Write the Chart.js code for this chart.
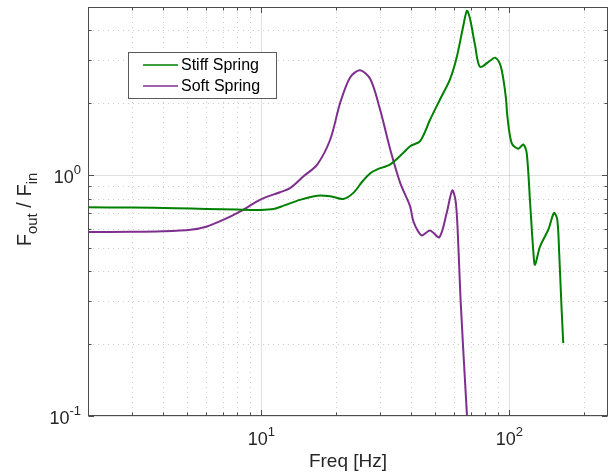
<!DOCTYPE html>
<html><head><meta charset="utf-8">
<script src="https://cdn.jsdelivr.net/npm/chart.js@4"></script>
<style>html,body{margin:0;padding:0;background:#fff;}canvas{display:block;}</style>
</head><body>
<canvas id="c" width="610" height="474"></canvas>
<script>
// ---- data ----
const seriesNames = ['Stiff Spring', 'Soft Spring'];
const seriesColors = ['#008000', '#7E2F8E'];

const stiffFreq = [2, 3, 4.5, 6, 8, 9.9, 11.2, 12.3, 14.3, 16.8, 19, 21.4, 23.5, 25.5, 27.5, 29.2, 33.1, 37.4, 39.8, 43.7, 47.9, 52.6, 57.7, 61.4, 65.3, 67.5, 69.5, 72.8, 76.2, 83.6, 87.6, 91.8, 94.6, 97, 98.2, 102.2, 108.7, 113.8, 117.5, 121.3, 125.1, 126.9, 133, 143.6, 151.4, 156.1, 158.9, 162.1, 165];
const stiffMag  = [0.736, 0.734, 0.730, 0.725, 0.720, 0.718, 0.724, 0.748, 0.79, 0.823, 0.818, 0.797, 0.845, 0.94, 1.02, 1.056, 1.11, 1.24, 1.32, 1.386, 1.70, 2.07, 2.51, 3.1, 4.2, 4.82, 4.45, 3.45, 2.82, 2.99, 3.08, 2.89, 2.51, 2.07, 1.76, 1.36, 1.288, 1.342, 1.24, 0.767, 0.475, 0.425, 0.506, 0.594, 0.697, 0.654, 0.475, 0.294, 0.201];

const softFreq = [2, 3, 4, 5.18, 6.04, 7.05, 8.23, 9.61, 10.5, 11.9, 13.1, 14.8, 16.8, 18.96, 20.8, 22.8, 25.0, 27.5, 30.1, 33.1, 36.3, 39.8, 41.1, 44.3, 47.9, 52.2, 55.9, 58.9, 60.9, 62.4, 63.6, 67.4, 68.5];
const softMag  = [0.581, 0.582, 0.585, 0.594, 0.613, 0.654, 0.708, 0.779, 0.813, 0.85, 0.886, 0.99, 1.108, 1.408, 2.0, 2.55, 2.73, 2.51, 1.88, 1.28, 0.93, 0.743, 0.64, 0.563, 0.59, 0.553, 0.697, 0.866, 0.767, 0.49, 0.303, 0.103, 0.08];

// axes
const xRange = [2, 250];
const yRange = [0.1, 5];
const xMajorTicks = [10, 100];
const xTickLabels = ['10^1', '10^2'];
const yMajorTicks = [0.1, 1];
const yTickLabels = ['10^-1', '10^0'];
const xMinorTicks = [3, 4, 5, 6, 7, 8, 9, 20, 30, 40, 50, 60, 70, 80, 90, 200];
const yMinorTicks = [0.2, 0.3, 0.4, 0.5, 0.6, 0.7, 0.8, 0.9, 2, 3, 4];
const xTitle = 'Freq [Hz]';
const yTitleParts = [['F', ''], ['out', 'sub'], [' / F', ''], ['in', 'sub']];

const FONT = '"Liberation Sans", Arial, Helvetica, sans-serif';
const TXT = '#262626';

function toPts(xs, ys) { return xs.map((v, i) => ({x: v, y: ys[i]})); }

function drawPow(ctx, label, x, y, align) {
  const [base, exp] = label.split('^');
  ctx.font = '18px ' + FONT;
  const wb = ctx.measureText(base).width;
  ctx.font = '13px ' + FONT;
  const we = ctx.measureText(exp).width;
  const total = wb + we;
  let sx = align === 'center' ? x - total / 2 : x - total;
  ctx.textAlign = 'left';
  ctx.textBaseline = 'alphabetic';
  ctx.font = '18px ' + FONT;
  ctx.fillText(base, sx, y);
  ctx.font = '13px ' + FONT;
  ctx.fillText(exp, sx + wb, y - 9);
}

const matlabAxes = {
  id: 'matlabAxes',
  beforeDatasetsDraw(chart) {
    const {ctx, chartArea: a, scales: {x, y}} = chart;
    ctx.save();
    ctx.lineWidth = 1;
    // minor dotted grid
    ctx.strokeStyle = 'rgba(0,0,0,0.2)';
    ctx.setLineDash([1, 4]);
    ctx.beginPath();
    xMinorTicks.forEach(v => { const p = Math.round(x.getPixelForValue(v)) + 0.5; ctx.moveTo(p, a.top); ctx.lineTo(p, a.bottom); });
    yMinorTicks.forEach(v => { const p = Math.round(y.getPixelForValue(v)) + 0.5; ctx.moveTo(a.left, p); ctx.lineTo(a.right, p); });
    ctx.stroke();
    // major solid grid
    ctx.setLineDash([]);
    ctx.strokeStyle = 'rgba(0,0,0,0.12)';
    ctx.beginPath();
    xMajorTicks.forEach(v => { const p = Math.round(x.getPixelForValue(v)) + 0.5; ctx.moveTo(p, a.top); ctx.lineTo(p, a.bottom); });
    yMajorTicks.forEach(v => { const p = Math.round(y.getPixelForValue(v)) + 0.5; ctx.moveTo(a.left, p); ctx.lineTo(a.right, p); });
    ctx.stroke();
    ctx.restore();
  },
  afterDatasetsDraw(chart) {
    const {ctx, chartArea: a, scales: {x, y}} = chart;
    ctx.save();
    const L = Math.round(a.left) + 0.5, R = Math.round(a.right) - 0.5;
    const T = Math.round(a.top) + 0.5, B = Math.round(a.bottom) - 0.5;
    // box
    ctx.strokeStyle = '#4d4d4d';
    ctx.lineWidth = 1;
    ctx.strokeRect(L, T, R - L, B - T);
    // tick marks
    ctx.beginPath();
    const tickX = (v, len) => { const p = Math.round(x.getPixelForValue(v)) + 0.5; ctx.moveTo(p, B); ctx.lineTo(p, B - len); ctx.moveTo(p, T); ctx.lineTo(p, T + len); };
    const tickY = (v, len) => { const p = Math.round(y.getPixelForValue(v)) + 0.5; ctx.moveTo(L, p); ctx.lineTo(L + len, p); ctx.moveTo(R, p); ctx.lineTo(R - len, p); };
    xMinorTicks.forEach(v => tickX(v, 3));
    xMajorTicks.forEach(v => tickX(v, 5.5));
    yMinorTicks.forEach(v => tickY(v, 3));
    yMajorTicks.forEach(v => tickY(v, 5.5));
    ctx.stroke();
    // tick labels
    ctx.fillStyle = TXT;
    xMajorTicks.forEach((v, i) => drawPow(ctx, xTickLabels[i], x.getPixelForValue(v), 445, 'center'));
    yMajorTicks.forEach((v, i) => drawPow(ctx, yTickLabels[i], 81, y.getPixelForValue(v) + 8, 'right'));
    // x title
    ctx.font = '19px ' + FONT;
    ctx.textAlign = 'center';
    ctx.textBaseline = 'alphabetic';
    ctx.fillText(xTitle, (a.left + a.right) / 2, 467);
    // y title (rotated, with subscripts)
    ctx.save();
    ctx.translate(31, (a.top + a.bottom) / 2 - 2);
    ctx.rotate(-Math.PI / 2);
    ctx.textAlign = 'left';
    const fMain = '20px ', fSub = '15px ';
    let widths = yTitleParts.map(([t, k]) => { ctx.font = (k === 'sub' ? fSub : fMain) + FONT; return ctx.measureText(t).width; });
    let total = widths.reduce((s, w) => s + w, 0);
    let cx = -total / 2;
    yTitleParts.forEach(([t, k], i) => {
      ctx.font = (k === 'sub' ? fSub : fMain) + FONT;
      ctx.fillText(t, cx, k === 'sub' ? 6 : 0);
      cx += widths[i];
    });
    ctx.restore();
    // legend
    const lx = 128.5, ly = 52.5, lw = 148, lh = 46;
    ctx.fillStyle = '#fff';
    ctx.fillRect(lx, ly, lw, lh);
    ctx.strokeStyle = '#5a5a5a';
    ctx.strokeRect(lx, ly, lw, lh);
    chart.data.datasets.forEach((ds, i) => {
      const yy = 65 + i * 21;
      ctx.strokeStyle = ds.borderColor;
      ctx.lineWidth = 1.6;
      ctx.beginPath(); ctx.moveTo(143, yy); ctx.lineTo(178, yy); ctx.stroke();
      ctx.fillStyle = '#000';
      ctx.font = '16px ' + FONT;
      ctx.textAlign = 'left';
      ctx.textBaseline = 'middle';
      ctx.fillText(ds.label, 181, yy + 1);
    });
    ctx.restore();
  }
};

new Chart(document.getElementById('c'), {
  type: 'line',
  data: {
    datasets: [
      {label: seriesNames[0], data: toPts(stiffFreq, stiffMag), borderColor: seriesColors[0], borderWidth: 2, pointRadius: 0, tension: 0.3, fill: false, clip: 0},
      {label: seriesNames[1], data: toPts(softFreq, softMag), borderColor: seriesColors[1], borderWidth: 2, pointRadius: 0, tension: 0.3, fill: false, clip: 0}
    ]
  },
  options: {
    responsive: false,
    animation: false,
    parsing: false,
    layout: {padding: {top: 7, right: 2, left: 0, bottom: 0}},
    plugins: {legend: {display: false}, tooltip: {enabled: false}},
    scales: {
      x: {type: 'logarithmic', min: xRange[0], max: xRange[1], grid: {display: false}, border: {display: false}, ticks: {display: false},
          afterFit(s) { s.height = 58; }},
      y: {type: 'logarithmic', min: yRange[0], max: yRange[1], grid: {display: false}, border: {display: false}, ticks: {display: false},
          afterFit(s) { s.width = 88; }}
    }
  },
  plugins: [matlabAxes]
});
</script>
</body></html>
